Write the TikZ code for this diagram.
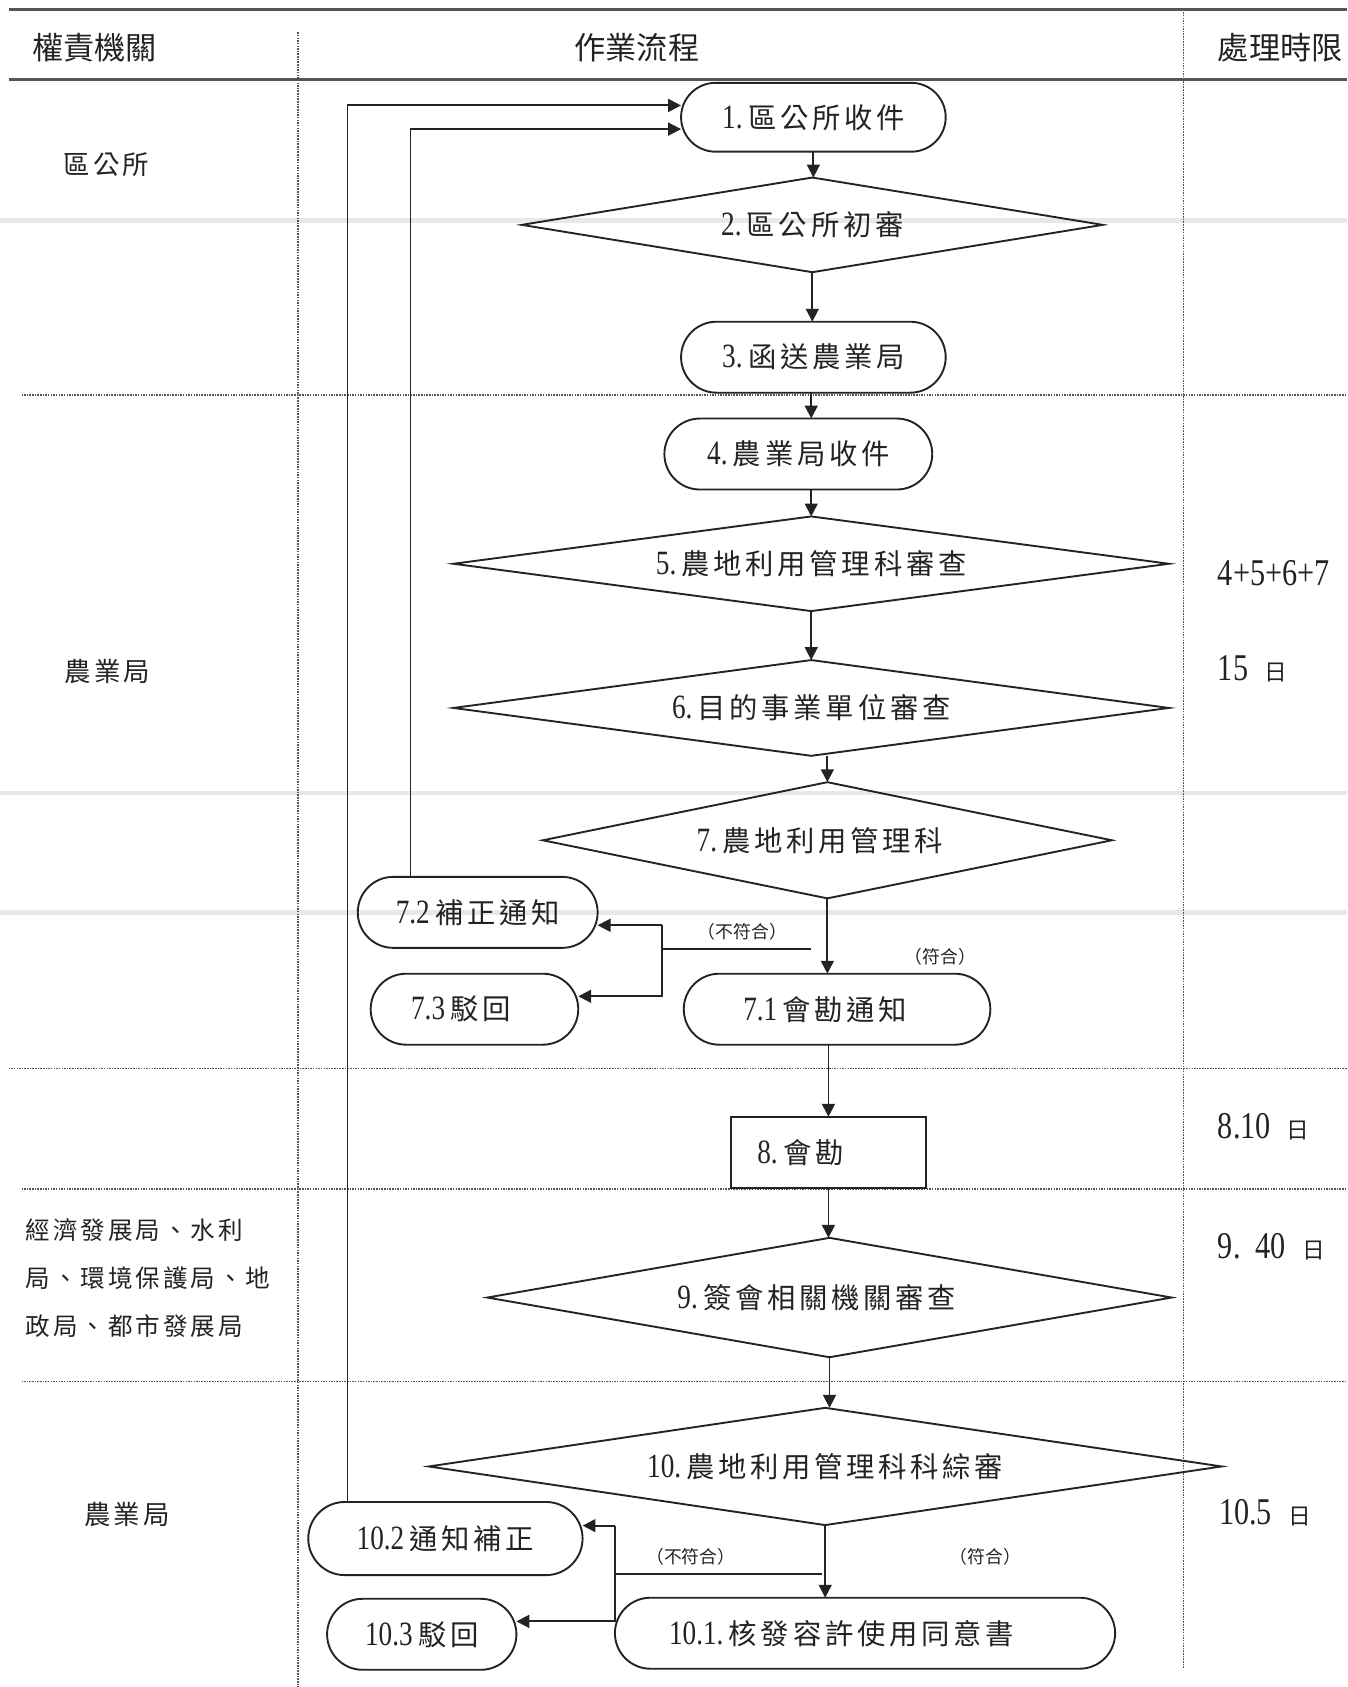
\documentclass[tikz,border=0pt]{standalone}
\usepackage{fontspec}
\usepackage{graphicx}
\usepackage{tikz}
\usetikzlibrary{shapes.geometric,shapes.misc,arrows.meta,calc}
\setmainfont{Liberation Serif}
\newfontfamily\cjk[LetterSpace=13]{Noto Sans CJK TC}
\newfontfamily\cjkorg[LetterSpace=12]{Noto Sans CJK TC}
\newfontfamily\cjkhd{Noto Sans CJK TC}
\definecolor{ink}{RGB}{35,35,35}
\definecolor{rulegray}{RGB}{85,85,85}
\definecolor{scan}{RGB}{232,232,232}
\newcommand{\flowfont}{\cjk\fontsize{15pt}{18pt}\selectfont}
\newcommand{\nb}[1]{{\rmfamily\fontsize{18pt}{18pt}\selectfont\scalebox{0.8}[1]{#1}}\hspace{0.1cm}}
\newcommand{\dg}[1]{{\rmfamily\fontsize{20pt}{20pt}\selectfont\scalebox{0.8}[1]{#1}}}
\newcommand{\dd}{\hspace{0.3cm}{\cjkhd\fontsize{12pt}{12pt}\selectfont 日}}
\newcommand{\pad}[1]{\hspace{#1}\null}

\begin{document}
\begin{tikzpicture}[x=0.02cm,y=-0.02cm,
  every node/.style={inner sep=0pt, outer sep=0pt, text=ink},
  stadium/.style={rounded rectangle, draw=ink, line width=1pt, minimum height=1.32cm, font=\flowfont},
  process/.style={rectangle, draw=ink, line width=1pt, minimum height=1.32cm, font=\flowfont},
  decision/.style={diamond, aspect=6, draw=ink, line width=1pt, font=\flowfont},
  cond/.style={font=\cjkhd\fontsize{9.4pt}{10pt}\selectfont},
  head/.style={font=\cjkhd\fontsize{16.5pt}{18pt}\selectfont},
  org/.style={font=\cjkorg\fontsize{14pt}{16pt}\selectfont},
  lim/.style={anchor=west},
  line/.style={draw=ink, line width=1pt},
  arr/.style={draw=ink, line width=1pt, -{Triangle[length=0.24cm,width=0.24cm]}},
  gridline/.style={draw=rulegray, line width=0.9pt, dash pattern=on 0.8pt off 0.6pt}]

\useasboundingbox (0,0) rectangle (1252,1568);

% table
\foreach \y in {205,737,848}
  \draw[scan, line width=2.5pt] (0,\y) -- (1252,\y);
\draw[rulegray, line width=1.6pt] (8,9) -- (1252,9);
\draw[rulegray, line width=1.2pt] (8,74) -- (1252,74);
\draw[gridline] (277,30) -- (277,1568);
\draw[gridline] (1100,9) -- (1100,1550);
\foreach \x/\y in {20/367, 8/993, 20/1105, 20/1284}
  \draw[gridline] (\x,\y) -- (1252,\y);

\node (h1) [head] at (88,44) {權責機關};
\node (h2) [head] at (592,44) {作業流程};
\node (h3) [head] at (1190,44) {處理時限};

\node (a1) [org] at (99,153) {區公所};
\node (a2) [org] at (100,624) {農業局};
\node (a3) [org, anchor=west, align=left, font=\cjkorg\fontsize{13pt}{25.6pt}\selectfont] at (24,1188)
  {經濟發展局、水利\\局、環境保護局、地\\政局、都市發展局};
\node (a4) [org] at (118,1408) {農業局};

\node (t1) [lim] at (1132,533) {\dg{4+5+6+7}};
\node (t2) [lim] at (1132,622) {\dg{15}\dd};
\node (t3) [lim] at (1132,1047) {\dg{8.10}\dd};
\node (t4) [lim] at (1132,1159) {\dg{9.\ \ 40}\dd};
\node (t5) [lim] at (1133,1406) {\dg{10.5}\dd};

% flow
\node (n1) [stadium, minimum width=4.92cm, minimum height=1.28cm] at (756,109) {\nb{1.}區公所收件};
\node (d2) [decision, minimum width=10.8cm, minimum height=1.76cm] at (755,209) {\nb{2.}區公所初審};
\node (n3) [stadium, minimum width=4.92cm] at (756,332) {\nb{3.}函送農業局};
\node (n4) [stadium, minimum width=4.98cm] at (742,422) {\nb{4.}農業局收件};
\node (d5) [decision, minimum width=13.3cm, minimum height=1.76cm] at (754,524) {\nb{5.}農地利用管理科審查};
\node (d6) [decision, minimum width=13.3cm, minimum height=1.78cm] at (754,658) {\nb{6.}目的事業單位審查};
\node (d7) [decision, minimum width=10.58cm, minimum height=2.16cm] at (769,781) {\nb{7.}農地利用管理科\pad{0.28cm}};
\node (n72) [stadium, minimum width=4.46cm] at (444,848) {\nb{7.2}補正通知};
\node (n73) [stadium, minimum width=3.86cm] at (441,938) {\nb{7.3}駁回\pad{0.5cm}};
\node (n71) [stadium, minimum width=5.7cm] at (778,938) {\nb{7.1}會勘通知\pad{0.44cm}};
\node (n8) [process, minimum width=3.62cm] at (770,1071) {\nb{8.}會勘\pad{1.04cm}};
\node (d9) [decision, minimum width=12.72cm, minimum height=2.22cm] at (771,1206) {\nb{9.}簽會相關機關審查\pad{0.48cm}};
\node (d10) [decision, minimum width=14.74cm, minimum height=2.18cm] at (767,1363) {\nb{10.}農地利用管理科科綜審};
\node (n102) [stadium, minimum width=5.1cm, minimum height=1.36cm] at (414,1430) {\nb{10.2}通知補正};
\node (n103) [stadium, minimum width=3.52cm] at (392,1519) {\nb{10.3}駁回};
\node (n101) [stadium, minimum width=9.3cm] at (804,1518) {\nb{10.1.}核發容許使用同意書\pad{0.88cm}};

\node (no7) [cond] at (690,866) {（不符合）};
\node (ok7) [cond] at (874,889) {（符合）};
\node (no10) [cond] at (642,1447) {（不符合）};
\node (ok10) [cond] at (916,1447) {（符合）};

\draw[arr] (n1.south) -- (n1.south |- d2.north);
\draw[arr] (d2.south) -- (d2.south |- n3.north);
\draw[arr] (d5.north |- n3.south) -- (d5.north |- n4.north);
\draw[arr] (d5.north |- n4.south) -- (d5.north);
\draw[arr] (d5.south) -- (d6.north);
\draw[arr] (d7.north |- d6.south) -- (d7.north);
\draw[arr] (d7.south) -- (d7.south |- n71.north);
\draw[arr] (n8.north |- n71.south) -- (n8.north);
\draw[arr] (n8.south) -- (n8.south |- d9.north);
\draw[arr] (d9.south) -- (d9.south |- d10.north);
\draw[arr] (d10.south) -- (d10.south |- n101.north);

% not passed at 7
\coordinate (j7) at (754,882);
\coordinate (s7) at (615,860);
\coordinate (r7) at (615,926);
\draw[line] (j7) -- (j7 -| s7);
\draw[arr] (s7) -- (s7 -| n72.east);
\draw[arr] (s7) -- (r7) -- (r7 -| n73.east);

% not passed at 10
\coordinate (j10) at (764,1463);
\coordinate (s10) at (572,1418);
\coordinate (r10) at (572,1507);
\draw[line] (j10) -- (j10 -| s10);
\draw[arr] (s10) -- (s10 -| n102.east);
\draw[arr] (s10) -- (r10) -- (r10 -| n103.east);

% back to 1
\draw[arr] ([xshift=-1.25cm]n72.north) |- ([yshift=-0.22cm]n1.west);
\draw[arr] ([xshift=-1.82cm]n102.north) |- ([yshift=0.22cm]n1.west);

\end{tikzpicture}
\end{document}
